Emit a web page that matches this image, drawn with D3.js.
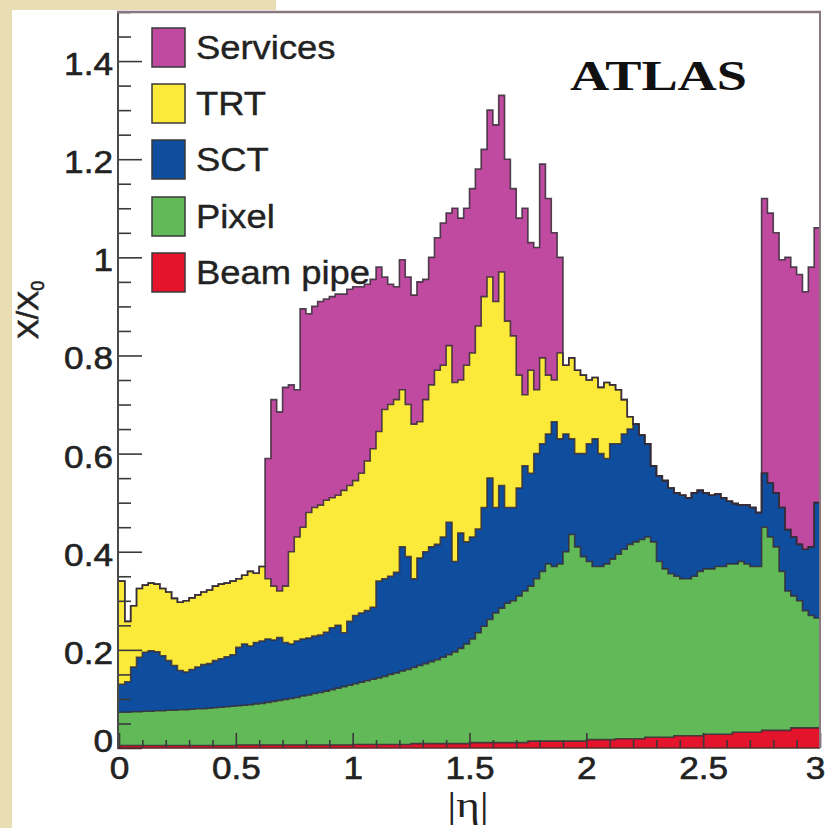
<!DOCTYPE html>
<html><head><meta charset="utf-8">
<script src="https://cdn.jsdelivr.net/npm/d3@7"></script>
<style>body{margin:0;background:#fff;} svg{display:block}</style>
</head><body>
<svg id="c" width="826" height="828"></svg>
<script>
// ---------------- data ----------------
// |eta| bins of width 0.025 from 0 to 3 (lower edges)
const etaBinLow = d3.range(120).map(i => +(i * 0.025).toFixed(3));
const etaMax = 3;

// cumulative X/X0 at the top of each stacked layer (null = layer absent in that bin)
const beamPipeTop = [
0.005,0.005,0.005,0.005,0.005,0.005,0.005,0.005,0.005,0.005,
0.005,0.005,0.005,0.005,0.005,0.005,0.005,0.005,0.005,0.005,
0.006,0.006,0.006,0.006,0.006,0.006,0.006,0.006,0.006,0.006,
0.006,0.006,0.006,0.006,0.006,0.006,0.006,0.006,0.006,0.006,
0.007,0.007,0.007,0.007,0.007,0.007,0.007,0.007,0.007,0.007,
0.009,0.009,0.009,0.009,0.009,0.009,0.009,0.009,0.009,0.009,
0.011,0.011,0.011,0.011,0.011,0.011,0.011,0.011,0.011,0.011,
0.014,0.014,0.014,0.014,0.014,0.014,0.014,0.014,0.014,0.014,
0.017,0.017,0.017,0.017,0.017,0.019,0.019,0.019,0.019,0.019,
0.022,0.022,0.022,0.022,0.022,0.025,0.025,0.025,0.025,0.025,
0.028,0.028,0.028,0.028,0.028,0.032,0.032,0.032,0.032,0.032,
0.036,0.036,0.036,0.036,0.036,0.041,0.041,0.041,0.041,0.041];

const pixelTop = [
0.073,0.073,0.074,0.074,0.075,0.075,0.076,0.076,0.077,0.077,
0.078,0.078,0.079,0.080,0.080,0.081,0.082,0.083,0.084,0.085,
0.086,0.087,0.088,0.090,0.091,0.093,0.095,0.097,0.099,0.101,
0.103,0.106,0.108,0.111,0.113,0.116,0.119,0.122,0.125,0.128,
0.131,0.134,0.137,0.140,0.143,0.146,0.150,0.153,0.157,0.160,
0.164,0.168,0.172,0.176,0.180,0.185,0.190,0.196,0.203,0.212,
0.222,0.235,0.248,0.262,0.275,0.285,0.295,0.300,0.310,0.320,
0.330,0.345,0.360,0.375,0.370,0.375,0.400,0.435,0.410,0.390,
0.380,0.370,0.370,0.375,0.385,0.395,0.405,0.415,0.420,0.425,
0.430,0.420,0.380,0.365,0.355,0.350,0.345,0.345,0.350,0.360,
0.365,0.365,0.370,0.370,0.375,0.375,0.380,0.375,0.370,0.370,
0.450,0.430,0.410,0.360,0.320,0.310,0.300,0.280,0.270,0.265];

const sctTop = [
0.130,0.135,0.165,0.185,0.195,0.198,0.196,0.188,0.178,0.168,
0.158,0.155,0.160,0.165,0.170,0.172,0.178,0.182,0.186,0.190,
0.205,0.212,0.208,0.215,0.218,0.222,0.220,0.225,0.215,0.212,
0.218,0.222,0.224,0.228,0.230,0.236,0.245,0.250,0.235,0.258,
0.270,0.275,0.280,0.287,0.340,0.345,0.350,0.358,0.410,0.390,
0.345,0.387,0.400,0.410,0.415,0.430,0.460,0.380,0.438,0.420,
0.430,0.446,0.490,0.550,0.490,0.535,0.490,0.490,0.530,0.575,
0.560,0.600,0.620,0.640,0.665,0.630,0.640,0.630,0.600,0.600,
0.620,0.630,0.600,0.590,0.620,0.620,0.640,0.650,0.660,0.638,
0.620,0.575,0.555,0.545,0.530,0.520,0.515,0.510,0.520,0.525,
0.520,0.515,0.518,0.510,0.503,0.498,0.495,0.495,0.490,0.480,
0.560,0.540,0.520,0.490,0.445,0.430,0.415,0.405,0.410,0.500];

const trtTop = [
0.340,0.258,0.290,0.325,0.332,0.336,0.334,0.325,0.318,0.305,
0.297,0.300,0.306,0.312,0.318,0.322,0.330,0.334,0.336,0.340,
0.345,0.352,0.360,0.356,0.370,0.345,0.330,0.320,0.330,0.400,
0.430,0.450,0.480,0.490,0.495,0.505,0.510,0.515,0.525,0.535,
0.545,0.560,0.585,0.610,0.645,0.690,0.700,0.710,0.730,0.700,
0.660,0.665,0.710,0.740,0.770,0.780,0.820,0.745,0.750,0.780,
0.805,0.860,0.920,0.960,0.910,0.970,0.870,0.840,0.760,0.720,
0.770,0.730,0.795,0.760,0.750,0.805,0.780,0.795,0.770,0.760,
0.750,0.755,0.735,0.745,0.740,0.730,0.710,0.675,null,null,
null,null,null,null,null,null,null,null,null,null,
null,null,null,null,null,null,null,null,null,null,
null,null,null,null,null,null,null,null,null,null];

const servicesTop = [
null,null,null,null,null,null,null,null,null,null,
null,null,null,null,null,null,null,null,null,null,
null,null,null,null,null,0.590,0.710,0.685,0.735,0.740,
0.730,0.895,0.885,0.900,0.910,0.915,0.920,0.925,0.925,0.935,
0.940,0.940,0.945,0.955,0.980,0.960,0.945,0.940,0.995,0.960,
0.923,0.950,0.955,1.000,1.040,1.070,1.090,1.100,1.080,1.100,
1.140,1.180,1.220,1.300,1.270,1.330,1.200,1.140,1.080,1.100,
1.030,1.020,1.190,1.120,1.050,1.000,null,null,null,null,
null,null,null,null,null,null,null,null,null,null,
null,null,null,null,null,null,null,null,null,null,
null,null,null,null,null,null,null,null,null,null,
1.120,1.090,1.050,0.995,1.000,0.980,0.965,0.930,0.980,1.060];

const layerNames  = ["Beam pipe","Pixel","SCT","TRT","Services"];
const layerColors = ["#e3142c","#62b958","#0f4d9e","#fcea3a","#bf4a9f"];
const legendOrder = ["Services","TRT","SCT","Pixel","Beam pipe"];

const yMajorTicks = [0,0.2,0.4,0.6,0.8,1,1.2,1.4];
const yTickLabels = ["0","0.2","0.4","0.6","0.8","1","1.2","1.4"];
const xMajorTicks = [0,0.5,1,1.5,2,2.5,3];
const xTickLabels = ["0","0.5","1","1.5","2","2.5","3"];

// ---------------- drawing ----------------
const svg = d3.select("#c");
const W = 826, H = 828;
const plot = {left:118, right:820, top:12, bottom:748};

const x = d3.scaleLinear().domain([0, etaMax]).range([119, 820]);
const y = d3.scaleLinear().domain([0, 1.5]).range([748, 12]);

// parchment background strips
svg.append("rect").attr("x",0).attr("y",0).attr("width",W).attr("height",H).attr("fill","#ffffff");
svg.append("rect").attr("x",0).attr("y",0).attr("width",12).attr("height",H).attr("fill","#e9ddb3");
svg.append("rect").attr("x",0).attr("y",0).attr("width",276).attr("height",10).attr("fill","#e9ddb3");

// effective cumulative tops
const raw = [beamPipeTop, pixelTop, sctTop, trtTop, servicesTop];
const tops = [];
raw.forEach((arr, k) => {
  tops.push(arr.map((v, i) => v != null ? v : (k === 0 ? 0 : tops[k-1][i])));
});

function pts(k) {
  const lo = i => k === 0 ? 0 : tops[k-1][i];
  const p = etaBinLow.map((e, i) => ({e, lo: lo(i), hi: tops[k][i]}));
  const last = p[p.length-1];
  p.push({e: etaMax, lo: last.lo, hi: last.hi});
  return p;
}

svg.append("clipPath").attr("id","pc").append("rect")
  .attr("x",plot.left).attr("y",plot.top).attr("width",plot.right-plot.left).attr("height",plot.bottom-plot.top);
const g = svg.append("g").attr("clip-path","url(#pc)");

const area = d3.area().curve(d3.curveStepAfter)
  .x(d => x(d.e)).y0(d => y(d.lo)).y1(d => y(d.hi));
const line = d3.line().curve(d3.curveStepAfter)
  .x(d => x(d.e)).y(d => y(d.hi));

layerNames.forEach((n, k) => {
  g.append("path").attr("d", area(pts(k))).attr("fill", layerColors[k]).attr("stroke","none");
});
for (let k = layerNames.length - 1; k >= 0; k--) {
  g.append("path").attr("d", line(pts(k))).attr("fill","none")
    .attr("stroke","#352a35").attr("stroke-width",1.6).attr("stroke-opacity",0.85);
}

function stretch(sel, f) {
  sel.each(function () {
    const w = this.getComputedTextLength();
    this.setAttribute("textLength", w * f);
    this.setAttribute("lengthAdjust", "spacingAndGlyphs");
  });
}

// axes
const fontSans = "'Liberation Sans', Arial, Helvetica, sans-serif";
const yMinor = d3.range(0, 1.501, 0.05).map(v => +v.toFixed(2)).filter(v => !yMajorTicks.includes(v));
const xMinor = d3.range(0, 3.001, 0.1).map(v => +v.toFixed(1)).filter(v => !xMajorTicks.includes(v));

const yAxMinor = svg.append("g").attr("transform", `translate(${plot.left},0)`)
  .call(d3.axisLeft(y).tickValues(yMinor).tickSize(-13).tickFormat(""));
const yAx = svg.append("g").attr("transform", `translate(${plot.left},0)`)
  .call(d3.axisLeft(y).tickValues(yMajorTicks).tickSize(-24).tickPadding(5)
    .tickFormat((d, i) => yTickLabels[i]));
const xAxMinor = svg.append("g").attr("transform", `translate(0,${plot.bottom})`)
  .call(d3.axisBottom(x).tickValues(xMinor).tickSize(-8).tickFormat(""));
const xAx = svg.append("g").attr("transform", `translate(0,${plot.bottom})`)
  .call(d3.axisBottom(x).tickValues(xMajorTicks).tickSize(-15).tickPadding(8)
    .tickFormat((d, i) => xTickLabels[i]));

[yAxMinor, yAx, xAxMinor, xAx].forEach(a => {
  a.select(".domain").remove();
  a.selectAll(".tick line").attr("stroke","#3a3a3a").attr("stroke-width",1.6);
});
[yAx, xAx].forEach(a => {
  a.selectAll("text").attr("font-family", fontSans).attr("font-size", 32)
    .attr("fill","#222").attr("stroke","#222").attr("stroke-width",0.6);
});
yAx.selectAll("text").attr("dy","0.42em");
yAx.selectAll(".tick").filter(d => d === 0).select("text").attr("dy","0.12em");
// keep the last x label inside the page
xAx.selectAll(".tick").filter(d => d === 3).select("text").attr("x", -5);
stretch(yAx.selectAll("text"), 1.1);
stretch(xAx.selectAll("text"), 1.1);

// frame
svg.append("line").attr("x1",plot.left).attr("x2",plot.left).attr("y1",plot.top).attr("y2",plot.bottom+1)
  .attr("stroke","#4a4a4a").attr("stroke-width",2);
svg.append("line").attr("x1",plot.left).attr("x2",plot.right).attr("y1",plot.bottom).attr("y2",plot.bottom)
  .attr("stroke","#5a2a2a").attr("stroke-width",1.5);
svg.append("line").attr("x1",plot.left-1).attr("x2",plot.right+1).attr("y1",plot.top).attr("y2",plot.top)
  .attr("stroke","#8a7880").attr("stroke-width",2.5);
svg.append("line").attr("x1",plot.right).attr("x2",plot.right).attr("y1",plot.top).attr("y2",plot.bottom)
  .attr("stroke","#8a7880").attr("stroke-width",2);

// axis titles
const yt = svg.append("text").attr("transform","translate(38,310) rotate(-90)")
  .attr("text-anchor","middle").attr("font-family",fontSans).attr("font-size",30)
  .attr("fill","#222").attr("stroke","#222").attr("stroke-width",0.6);
yt.append("tspan").text("X/X");
yt.append("tspan").attr("font-size",18).attr("dy",6).text("0");

const xt = svg.append("text").attr("x",468).attr("y",817).attr("text-anchor","middle")
  .attr("font-family","'Liberation Serif', 'Times New Roman', serif").attr("font-size",36)
  .attr("fill","#222").text("|η|");
stretch(xt, 1.25);

// ATLAS label
const atl = svg.append("text").attr("x",570).attr("y",90)
  .attr("font-family","'Liberation Serif', 'Times New Roman', serif").attr("font-weight","bold")
  .attr("font-size",42).attr("fill","#111").text("ATLAS");
atl.attr("textLength",177).attr("lengthAdjust","spacingAndGlyphs");

// legend
const legTop = [28, 84, 140, 197, 253];
legendOrder.forEach((name, j) => {
  const k = layerNames.indexOf(name);
  svg.append("rect").attr("x",152).attr("y",legTop[j]).attr("width",33).attr("height",39)
    .attr("fill",layerColors[k]).attr("stroke","#3a3a3a").attr("stroke-width",1.5);
  const t = svg.append("text").attr("x",196).attr("y",legTop[j]+31)
    .attr("font-family",fontSans).attr("font-size",34).attr("fill","#222")
    .attr("stroke","#222").attr("stroke-width",0.4).text(name);
  stretch(t, 1.07);
});
</script>
</body></html>
